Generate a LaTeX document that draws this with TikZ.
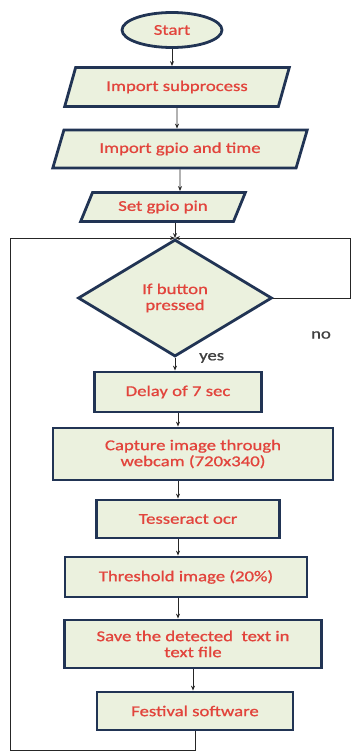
\documentclass[tikz,border=0pt]{standalone}
\usepackage{fontspec}
\setmainfont{Carlito}[FakeStretch=1.25,FakeBold=0.9]
\usetikzlibrary{positioning,arrows.meta,shapes.geometric}
\definecolor{boxfill}{RGB}{235,241,222}
\definecolor{boxline}{RGB}{33,52,84}
\definecolor{txtred}{RGB}{226,68,60}

\begin{document}
\begin{tikzpicture}[x=1pt,y=-1pt,
    base/.style={draw=boxline,line width=2.8pt,fill=boxfill,text=txtred,font=\fontsize{15}{16}\selectfont,align=center,inner sep=2pt},
    term/.style={base,ellipse,minimum width=100pt,minimum height=35pt},
    io/.style={base,trapezium,trapezium left angle=65,trapezium right angle=115,trapezium stretches=true},
    decision/.style={base,diamond,aspect=1.66},
    proc/.style={base,rectangle},
    arrow/.style={-{Stealth[length=5pt,width=4pt]},line width=0.9pt,black!85},
    lbl/.style={font=\fontsize{15}{16}\selectfont,text=black!75,inner sep=0pt},
]
\useasboundingbox (0,0) rectangle (352,752);

\node[term] (start) at (172,30) {Start};
\node[io,minimum width=225pt,minimum height=39pt] (imp1) at (177,87) {Import subprocess};
\node[io,minimum width=255pt,minimum height=38pt] (imp2) at (180,149) {Import gpio and time};
\node[io,minimum width=165pt,minimum height=29pt] (setpin) at (163,207) {Set gpio pin};
\node[decision,minimum width=194pt,minimum height=117pt] (cond) at (175,298) {If button\\pressed};
\node[proc,minimum width=167pt,minimum height=40pt] (delay) at (178,392) {Delay of 7 sec};
\node[proc,minimum width=280pt,minimum height=52pt] (capture) at (193,454) {Capture image through\\webcam (720x340)};
\node[proc,minimum width=183pt,minimum height=38pt] (ocr) at (188,519) {Tesseract ocr};
\node[proc,minimum width=242pt,minimum height=40pt] (thresh) at (186,577) {Threshold image (20\%)};
\node[proc,minimum width=257pt,minimum height=48pt] (save) at (193,644) {Save the detected \ text in\\text file};
\node[proc,minimum width=196pt,minimum height=38pt] (fest) at (195,711) {Festival software};

\node[lbl,right=24pt of cond.south] (yes) {yes};
\node[lbl] (no) at (321,335) {no};

\coordinate (loopbl) at (10,750);
\coordinate (noright) at (350,0);

\draw[arrow] (start) -- (start |- imp1.north);
\draw[arrow] (imp1) -- (imp1 |- imp2.north);
\draw[arrow] (imp2) -- (imp2 |- setpin.north);
\draw[arrow] (setpin.south -| cond.north) -- (cond.north);
\draw[arrow] (cond) -- (cond |- delay.north);
\draw[arrow] (delay) -- (delay |- capture.north);
\draw[arrow] (delay |- capture.south) -- (delay |- ocr.north);
\draw[arrow] (delay |- ocr.south) -- (delay |- thresh.north);
\draw[arrow] (delay |- thresh.south) -- (delay |- save.north);
\draw[arrow] (save) -- (save |- fest.north);
\draw[arrow] (fest.south) |- (loopbl) |- (cond.north);
\draw[arrow] (cond.east) -- (cond.east -| noright) |- (cond.north);
\end{tikzpicture}
\end{document}
